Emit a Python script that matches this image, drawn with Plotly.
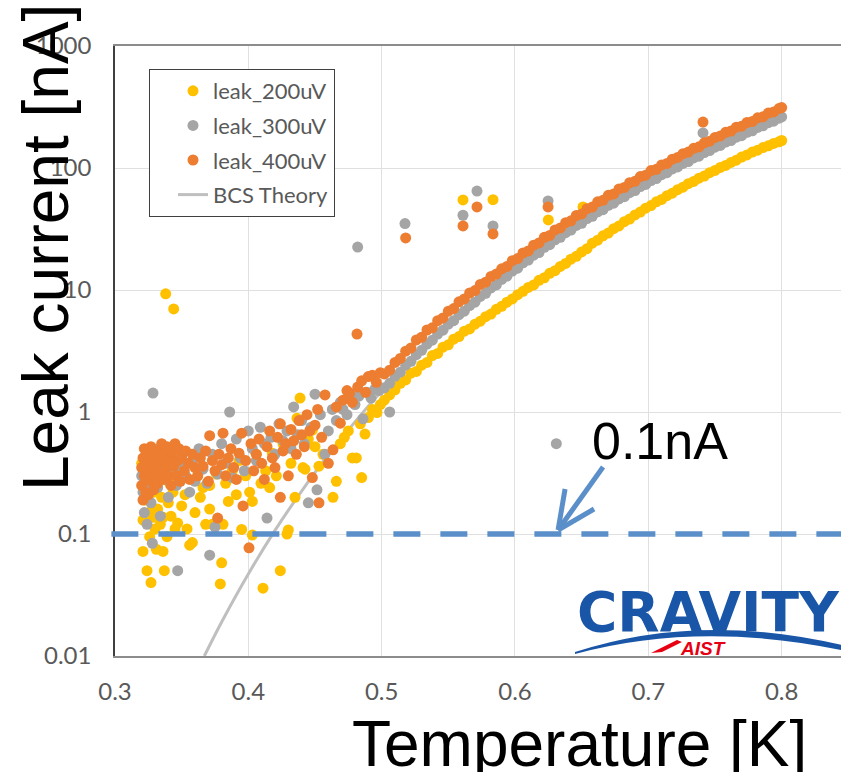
import plotly.graph_objects as go
import math

# ---------------- data ----------------
t_200 = [0.320, 0.321, 0.321, 0.322, 0.323, 0.324, 0.325, 0.326, 0.327, 0.328, 0.3285, 0.329, 0.330, 0.331,
         0.332, 0.333, 0.334, 0.335, 0.336, 0.336, 0.337, 0.338, 0.339, 0.340, 0.341, 0.342, 0.3435, 0.344,
         0.345, 0.347, 0.348, 0.350, 0.3525, 0.354, 0.356, 0.358, 0.360, 0.362, 0.364, 0.366, 0.368, 0.371,
         0.371, 0.373, 0.376, 0.379, 0.380, 0.381, 0.383, 0.385, 0.388, 0.391, 0.393, 0.395, 0.398, 0.401,
         0.403, 0.403, 0.406, 0.4095, 0.411, 0.413, 0.416, 0.418, 0.421, 0.424, 0.426, 0.429, 0.430, 0.432,
         0.435, 0.4365, 0.4388, 0.441, 0.4425, 0.445, 0.448, 0.450, 0.453, 0.456, 0.4635, 0.466, 0.469, 0.472,
         0.475, 0.478, 0.481, 0.484, 0.485, 0.4875, 0.490, 0.493, 0.4965, 0.499,
         0.502, 0.506, 0.510, 0.514, 0.518, 0.522, 0.526, 0.530, 0.534, 0.538, 0.542, 0.546, 0.550, 0.554,
         0.558, 0.562, 0.566, 0.570, 0.574, 0.578, 0.582, 0.586, 0.590, 0.594, 0.598, 0.602, 0.606, 0.610,
         0.614, 0.618, 0.622, 0.626, 0.630, 0.634, 0.638, 0.642, 0.646, 0.650, 0.654, 0.658, 0.662, 0.666,
         0.670, 0.674, 0.678, 0.682, 0.686, 0.690, 0.694, 0.698, 0.702, 0.706, 0.710, 0.714, 0.718, 0.722,
         0.726, 0.730, 0.734, 0.738, 0.742, 0.746, 0.750, 0.754, 0.758, 0.762, 0.766, 0.770, 0.774, 0.778,
         0.782, 0.786, 0.790, 0.794, 0.798, 0.800,
         0.561, 0.5835, 0.625, 0.651]
i_200 = [0.38, 0.13, 0.072, 0.25, 0.19, 0.05, 0.30, 0.095, 0.040, 0.16, 0.137, 0.22, 0.11, 0.075,
         0.16, 0.28, 0.12, 0.20, 0.072, 0.137, 0.05, 9.3, 0.095, 0.18, 0.26, 0.14, 0.22, 7.0,
         0.11, 0.123, 0.30, 0.17, 0.21, 0.11, 0.081, 0.085, 0.15, 0.30, 0.20, 0.24, 0.12, 0.16,
         0.25, 0.12, 0.31, 0.039, 0.058, 0.12, 0.26, 0.185, 0.33, 0.21, 0.40, 0.109, 0.30, 0.22,
         0.098, 0.185, 0.45, 0.26, 0.036, 0.33, 0.24, 0.46, 0.30, 0.05, 0.55, 0.10, 0.108, 0.38,
         0.20, 0.89, 1.3, 0.35, 0.34, 0.60, 0.71, 0.52, 0.36, 0.45, 0.20, 0.27, 0.55, 0.62,
         0.70, 0.42, 0.42, 0.80, 0.29, 0.66, 0.90, 1.05, 0.99, 1.15,
         1.25, 1.38, 1.52, 1.72, 1.83, 2.08, 2.15, 2.42, 2.55, 2.90, 3.02, 3.40, 3.55, 3.95,
         4.15, 4.60, 4.80, 5.25, 5.55, 6.05, 6.35, 6.95, 7.35, 7.95, 8.45, 9.15, 9.75, 10.5,
         11.0, 12.0, 12.6, 13.7, 14.4, 15.6, 16.5, 17.9, 18.9, 20.5, 21.8, 24.2, 25.6, 27.8,
         29.3, 31.8, 33.5, 36.3, 38.2, 41.2, 43.5, 46.8, 49.2, 52.8, 55.2, 59.3, 62.2, 66.4,
         69.6, 74.4, 77.6, 82.5, 86.0, 91.5, 95.5, 101, 105, 111, 116, 123, 128, 135,
         140, 147, 152, 159, 164, 168,
         54.7, 55.0, 37.5, 48.0]

t_300 = [0.320, 0.321, 0.322, 0.323, 0.324, 0.325, 0.326, 0.327, 0.328, 0.3285, 0.329, 0.330, 0.332, 0.333,
         0.334, 0.336, 0.338, 0.340, 0.342, 0.344, 0.346, 0.347, 0.349, 0.351, 0.353, 0.356, 0.358, 0.360,
         0.363, 0.366, 0.369, 0.371, 0.373, 0.375, 0.377, 0.380, 0.383, 0.386, 0.388, 0.391, 0.394, 0.397,
         0.400, 0.403, 0.406, 0.409, 0.412, 0.414, 0.417, 0.420, 0.423, 0.426, 0.429, 0.432, 0.434, 0.437,
         0.440, 0.442, 0.445, 0.447, 0.450, 0.4515, 0.454, 0.4575, 0.460, 0.463, 0.466, 0.469, 0.471, 0.474,
         0.477, 0.480, 0.482, 0.483, 0.486, 0.489, 0.492, 0.495, 0.498,
         0.502, 0.506, 0.506, 0.510, 0.514, 0.5175, 0.518, 0.522, 0.526, 0.530, 0.534, 0.538, 0.542, 0.546,
         0.550, 0.554, 0.558, 0.561, 0.562, 0.566, 0.570, 0.5715, 0.574, 0.578, 0.582, 0.5835, 0.586, 0.590,
         0.594, 0.598, 0.602, 0.606, 0.610, 0.614, 0.618, 0.622, 0.6248, 0.626, 0.630, 0.631, 0.634, 0.638,
         0.642, 0.646, 0.650, 0.654, 0.658, 0.662, 0.666, 0.670, 0.674, 0.678, 0.682, 0.686, 0.690, 0.694,
         0.698, 0.702, 0.706, 0.710, 0.714, 0.718, 0.722, 0.726, 0.730, 0.734, 0.738, 0.741, 0.742, 0.746,
         0.750, 0.754, 0.758, 0.762, 0.766, 0.770, 0.774, 0.778, 0.782, 0.786, 0.790, 0.794, 0.798, 0.800]
i_300 = [0.30, 0.22, 0.15, 0.40, 0.12, 0.35, 0.26, 0.18, 0.084, 1.43, 0.45, 0.32, 0.24, 0.50,
         0.14, 0.38, 0.28, 0.20, 0.42, 0.33, 0.25, 0.05, 0.36, 0.46, 0.30, 0.22, 0.40, 0.27,
         0.50, 0.34, 0.26, 0.067, 0.45, 0.114, 0.31, 0.55, 0.38, 1.0, 0.29, 0.60, 0.42, 0.33,
         0.70, 0.50, 0.40, 0.75, 0.55, 0.135, 0.62, 0.45, 0.80, 0.58, 0.70, 0.50, 1.1, 0.65,
         0.85, 0.55, 0.18, 0.75, 1.4, 0.23, 0.95, 0.45, 0.70, 1.05, 0.85, 1.2, 1.05, 0.95,
         1.25, 1.15, 22.5, 1.35, 0.88, 1.45, 1.30, 1.55, 1.50,
         1.58, 1.0, 1.72, 1.96, 2.12, 35.0, 2.42, 2.60, 2.95, 3.20, 3.60, 3.88, 4.35, 4.68,
         5.25, 5.60, 6.28, 41.0, 6.70, 7.45, 7.95, 64.7, 8.85, 9.40, 10.4, 33.5, 11.0, 12.2,
         13.0, 14.3, 15.1, 16.7, 17.6, 19.3, 20.3, 22.4, 53.7, 23.5, 25.8, 0.55, 27.0, 29.5,
         31.0, 33.8, 35.2, 38.5, 40.2, 43.8, 45.5, 49.5, 51.5, 55.8, 58.2, 62.8, 65.3, 70.4,
         73.4, 79.0, 82.0, 88.2, 91.5, 98.3, 102, 109, 113, 121, 125, 194, 134, 139,
         148, 153, 163, 168, 179, 184, 196, 202, 215, 222, 235, 242, 256, 262]

t_400 = [0.320, 0.320, 0.321, 0.321, 0.322, 0.322, 0.323, 0.323, 0.324, 0.324, 0.325, 0.325, 0.326, 0.327,
         0.327, 0.328, 0.329, 0.330, 0.330, 0.331, 0.332, 0.333, 0.334, 0.335, 0.335, 0.336, 0.337, 0.338,
         0.339, 0.340, 0.341, 0.342, 0.343, 0.344, 0.345, 0.346, 0.347, 0.348, 0.349, 0.350, 0.352, 0.353,
         0.355, 0.356, 0.358, 0.360, 0.362, 0.364, 0.366, 0.368, 0.370, 0.371, 0.373, 0.375, 0.377, 0.378,
         0.380, 0.381, 0.383, 0.385, 0.387, 0.389, 0.391, 0.393, 0.395, 0.396, 0.398, 0.4005, 0.402, 0.404,
         0.406, 0.408, 0.410, 0.412, 0.414, 0.416, 0.418, 0.420, 0.422, 0.424, 0.424, 0.426, 0.428, 0.430,
         0.432, 0.434, 0.436, 0.438, 0.440, 0.442, 0.444, 0.446, 0.448, 0.450, 0.452, 0.453, 0.455, 0.4575,
         0.460, 0.4635, 0.466, 0.469, 0.471, 0.474, 0.476, 0.478, 0.4815, 0.482, 0.485, 0.488, 0.490, 0.493,
         0.496, 0.499,
         0.502, 0.506, 0.510, 0.514, 0.518, 0.518, 0.522, 0.526, 0.530, 0.534, 0.538, 0.542, 0.546, 0.550,
         0.554, 0.558, 0.561, 0.562, 0.566, 0.570, 0.5715, 0.574, 0.578, 0.582, 0.5835, 0.586, 0.590, 0.594,
         0.598, 0.602, 0.606, 0.610, 0.614, 0.618, 0.622, 0.6248, 0.626, 0.630, 0.634, 0.638, 0.642, 0.646,
         0.650, 0.654, 0.658, 0.662, 0.666, 0.670, 0.674, 0.678, 0.682, 0.686, 0.690, 0.694, 0.698, 0.702,
         0.706, 0.710, 0.714, 0.718, 0.722, 0.726, 0.730, 0.734, 0.738, 0.741, 0.742, 0.746, 0.750, 0.754,
         0.758, 0.762, 0.766, 0.770, 0.774, 0.778, 0.782, 0.786, 0.790, 0.794, 0.798, 0.800]
i_400 = [0.35, 0.25, 0.42, 0.19, 0.30, 0.50, 0.22, 0.38, 0.28, 0.45, 0.33, 0.21, 0.40, 0.27,
         0.52, 0.35, 0.23, 0.44, 0.30, 0.37, 0.26, 0.48, 0.32, 0.55, 0.40, 0.28, 0.45, 0.35,
         0.52, 0.30, 0.42, 0.25, 0.47, 0.36, 0.55, 0.30, 0.40, 0.50, 0.27, 0.43, 0.33, 0.48,
         0.38, 0.28, 0.45, 0.35, 0.30, 0.42, 0.36, 0.48, 0.27, 0.64, 0.40, 0.33, 0.135, 0.45,
         0.37, 0.67, 0.30, 0.42, 0.50, 0.35, 0.28, 0.46, 0.67, 0.17, 0.40, 0.077, 0.55, 0.33,
         0.45, 0.60, 0.38, 0.28, 0.52, 0.70, 0.42, 0.35, 0.62, 0.80, 0.20, 0.48, 0.55, 0.30,
         0.72, 0.58, 0.45, 0.85, 0.65, 0.52, 0.95, 0.70, 0.29, 0.78, 1.05, 0.18, 0.62, 1.38,
         0.38, 0.49, 1.10, 0.81, 1.25, 1.50, 1.43, 1.20, 4.35, 1.60, 1.80, 1.45, 1.95, 2.00,
         1.75, 2.10,
         2.05, 2.20, 2.55, 2.75, 3.15, 26.7, 3.35, 3.90, 4.10, 4.70, 4.90, 5.60, 5.90, 6.70,
         7.05, 8.00, 33.5, 8.45, 9.45, 9.90, 48.0, 11.1, 11.6, 12.9, 28.8, 13.5, 14.9, 15.6,
         17.4, 18.1, 20.1, 20.9, 23.3, 24.3, 27.0, 48.0, 28.0, 31.1, 32.3, 35.6, 36.9, 40.8,
         42.0, 46.4, 47.8, 52.8, 54.3, 59.7, 61.3, 67.4, 69.3, 75.7, 77.8, 85.0, 87.3, 95.3,
         97.6, 106, 109, 118, 122, 131, 135, 145, 149, 238, 161, 166, 178, 183,
         196, 201, 216, 220, 236, 241, 258, 263, 282, 288, 307, 313]

t_bcs = [0.367, 0.380, 0.400, 0.420, 0.440, 0.460, 0.480, 0.500, 0.550, 0.600, 0.650, 0.700, 0.750, 0.800]
i_bcs = [0.010, 0.019, 0.047, 0.107, 0.225, 0.446, 0.83, 1.48, 5.19, 14.7, 35.6, 76.0, 147, 261]

threshold_nA = 0.1
x_tick_vals = [0.3, 0.4, 0.5, 0.6, 0.7, 0.8]
x_tick_text = ["0.3", "0.4", "0.5", "0.6", "0.7", "0.8"]
y_tick_vals = [0.01, 0.1, 1, 10, 100, 1000]
y_tick_text = ["0.01", "0.1", "1", "10", "100", "1000"]

# ---------------- styling ----------------
C_200 = "#FFC000"
C_300 = "#A5A5A5"
C_400 = "#ED7D31"
C_BCS = "#BFBFBF"
C_DASH = "#5B8FC9"
TICK_FONT = dict(family="Lato", size=24, color="#595959")

W, H = 841, 772
ML, MR, MT, MB = 115, 0, 46, 116
PW, PH = W - ML - MR, H - MT - MB


def px(xp):
    return (xp - ML) / PW


def py(yp):
    return (H - MB - yp) / PH


fig = go.Figure()

fig.add_trace(go.Scatter(x=t_bcs, y=i_bcs, mode="lines", name="BCS Theory", legendgroup="g4",
                         line=dict(color=C_BCS, width=3, shape="spline"), legendrank=4))
for t, i, name, col, rank in [(t_200, i_200, "leak_200uV", C_200, 1),
                              (t_300, i_300, "leak_300uV", C_300, 2),
                              (t_400, i_400, "leak_400uV", C_400, 3)]:
    fig.add_trace(go.Scatter(x=t, y=i, mode="markers", name=name, legendrank=rank,
                             legendgroup=f"g{rank}",
                             marker=dict(color=col, size=11, line=dict(width=0))))

shapes = []
# threshold dashed line
shapes.append(dict(type="line", xref="paper", yref="y", x0=-0.005, x1=1.0,
                   y0=threshold_nA, y1=threshold_nA,
                   line=dict(color=C_DASH, width=5.5, dash="27px,20px")))
# arrow (shaft + two arms), anchored at the threshold line
arrow_T = 0.6323
for (a0, b0, a1, b1) in [(0, 4, 45, 67), (0, 4, 36, 25), (0, 4, 7, 45)]:
    shapes.append(dict(type="line", xref="x", yref="y", xsizemode="pixel", ysizemode="pixel",
                       xanchor=arrow_T, yanchor=threshold_nA, x0=a0, y0=b0, x1=a1, y1=b1,
                       line=dict(color=C_DASH, width=5)))

# logo arc (crescent) and red swoosh
arc = (f"M {px(575)},{py(652)} Q {px(700)},{py(611)} {px(846)},{py(646)} "
       f"L {px(846)},{py(651)} Q {px(700)},{py(620)} {px(575)},{py(654)} Z")
shapes.append(dict(type="path", xref="paper", yref="paper", path=arc,
                   fillcolor="#1a56a8", line=dict(width=0), layer="above"))
sw = (f"M {px(651)},{py(653)} L {px(677)},{py(640)} L {px(682)},{py(642)} "
      f"L {px(662)},{py(652)} Z")
shapes.append(dict(type="path", xref="paper", yref="paper", path=sw,
                   fillcolor="#e60012", line=dict(width=0), layer="above"))

annotations = [
    dict(text="Leak current [nA]", xref="paper", yref="paper", x=px(46), y=py(248),
         textangle=-90, showarrow=False, xanchor="center", yanchor="middle",
         font=dict(family="Liberation Sans", size=64, color="black")),
    dict(text="Temperature [K]", xref="paper", yref="paper", x=px(579), y=py(744),
         showarrow=False, xanchor="center", yanchor="middle",
         font=dict(family="Liberation Sans", size=64, color="black")),
    dict(text="0.1nA", xref="paper", yref="paper", x=px(590), y=py(441),
         showarrow=False, xanchor="left", yanchor="middle",
         font=dict(family="Liberation Sans", size=52, color="black")),
    dict(text="<b>CRAVITY</b>", xref="paper", yref="paper", x=px(575), y=py(612),
         showarrow=False, xanchor="left", yanchor="middle",
         font=dict(family="DejaVu Sans", size=55, color="#1a56a8")),
    dict(text="<b><i>AIST</i></b>", xref="paper", yref="paper", x=px(703), y=py(648),
         showarrow=False, xanchor="center", yanchor="middle",
         font=dict(family="Liberation Sans", size=19, color="#e60012")),
]

fig.update_layout(
    width=W, height=H,
    margin=dict(l=ML, r=MR, t=MT, b=MB),
    paper_bgcolor="white", plot_bgcolor="white",
    showlegend=True,
    legend=dict(x=px(149), y=py(69), xanchor="left", yanchor="top",
                bgcolor="white", bordercolor="#404040", borderwidth=1,
                font=dict(family="Lato", size=22, color="#595959"),
                indentation=23, itemsizing="trace", tracegroupgap=3,
                entrywidth=175, entrywidthmode="pixels"),
    shapes=shapes,
    annotations=annotations,
    xaxis=dict(range=[0.3, 0.3 + PW / 1333.3], tickvals=x_tick_vals, ticktext=x_tick_text,
               showgrid=True, gridcolor="#E0E0E0", gridwidth=1, zeroline=False,
               showline=True, linecolor="#8C8C8C", linewidth=2, mirror=True,
               ticks="", ticklabelstandoff=13, tickfont=TICK_FONT),
    yaxis=dict(type="log", range=[-2, 3], tickvals=y_tick_vals, ticktext=y_tick_text,
               showgrid=True, gridcolor="#E0E0E0", gridwidth=1, zeroline=False,
               showline=True, linecolor="#404040", linewidth=1.5,
               ticks="", ticklabelstandoff=17, tickfont=TICK_FONT),
)

fig.write_html("out.html")
